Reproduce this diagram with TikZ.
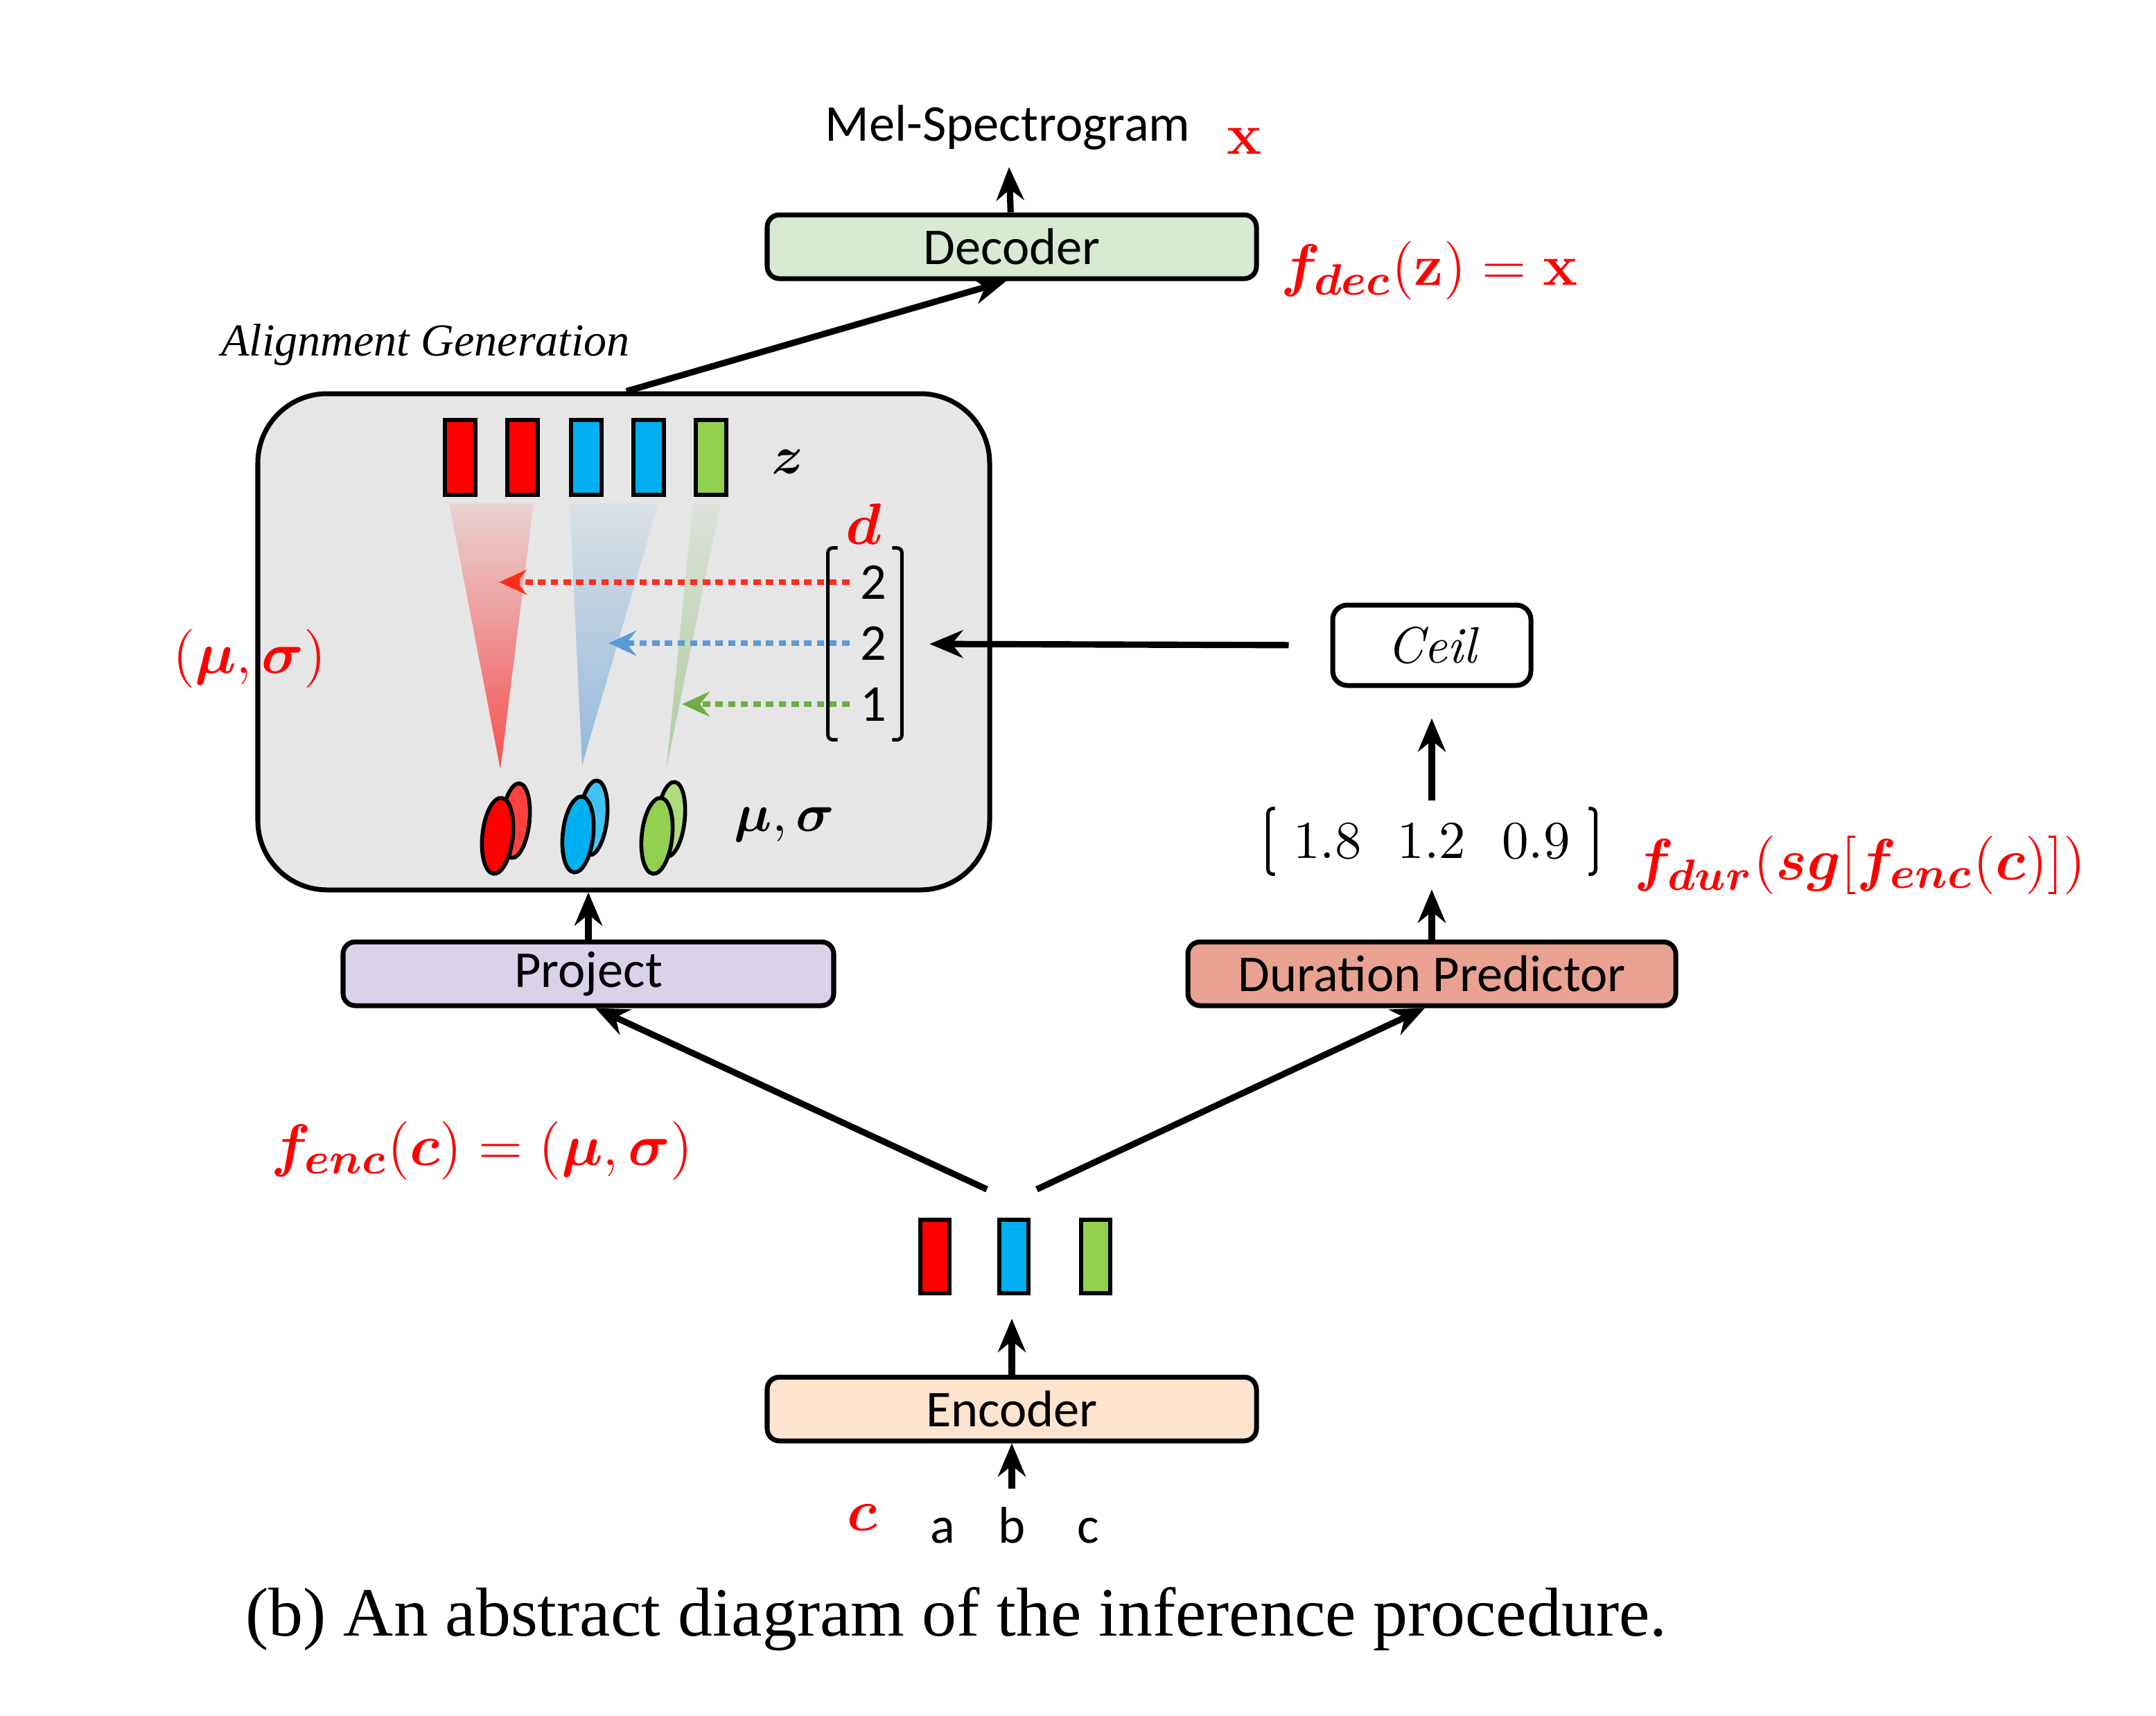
\documentclass[tikz,border=0pt]{standalone}
\usepackage[no-math]{fontspec}
\usepackage{amsmath}
\usepackage{bm}
\setmainfont{Carlito}
\newfontfamily\capfont{Liberation Serif}
\usetikzlibrary{positioning}
\usetikzlibrary{arrows.meta,calc}

\definecolor{decfill}{HTML}{D9EAD3}
\definecolor{projfill}{HTML}{D9D2E9}
\definecolor{durfill}{HTML}{E9A291}
\definecolor{encfill}{HTML}{FCE4CF}
\definecolor{agfill}{HTML}{E6E6E6}
\definecolor{zred}{HTML}{FF0000}
\definecolor{zblue}{HTML}{00B0F0}
\definecolor{zgreen}{HTML}{92D050}
\definecolor{dred}{HTML}{FF2D1F}
\definecolor{dblue}{HTML}{5B9BD5}
\definecolor{dgreen}{HTML}{70AD47}

\newcommand{\lblfont}{\fontsize{10.6}{12}\selectfont}

\begin{document}
\begin{tikzpicture}[
    box/.style={draw,line width=1pt,rounded corners=2.5pt,minimum width=3.53cm,minimum height=0.46cm,inner sep=0pt,font=\lblfont},
    bar/.style={draw,line width=0.8pt,minimum width=0.22cm,minimum height=0.54cm,inner sep=0pt},
    arr/.style={line width=1.3pt,-{Stealth[length=0.24cm,width=0.2cm,inset=0.08cm]}},
    dotarr/.style={line width=1.1pt,dash pattern=on 1.5pt off 1.1pt,-{Stealth[length=0.2cm,width=0.18cm,inset=0.07cm]}},
    redmath/.style={text=zred,font=\fontsize{12.5}{14}\selectfont,inner sep=1pt},
    blackmath/.style={font=\fontsize{11}{13}\selectfont,inner sep=1pt},
    digit/.style={font=\lblfont,inner sep=2pt},
    letter/.style={font=\lblfont,anchor=base,text height=1.6ex,text depth=0pt},
    brk/.style={line width=0.7pt,rounded corners=1pt},
    ellip/.style={line width=0.8pt},
]
    \useasboundingbox (0,0) rectangle (15.555,-12.375);

    % decoder
    \node[box,fill=decfill] (dec) at (7.30,-1.78) {Decoder};
    \node[font=\lblfont] (mel) at (7.27,-0.92) {Mel-Spectrogram};
        \draw[arr] (dec) -- (mel);
    \node[redmath] (xout) at (8.98,-1.02) {$\mathbf{x}$};
    \node[redmath,anchor=west,font=\fontsize{12.2}{14}\selectfont] (fdec) at (9.20,-1.95) {$\bm{f}_{\bm{dec}}(\mathbf{z})=\mathbf{x}$};

    % alignment generation
    \node[draw,fill=agfill,line width=1pt,rounded corners=0.5cm,minimum width=5.28cm,minimum height=3.58cm] (ag) at (4.50,-4.63) {};
    \node[font=\capfont\fontsize{9.4}{11}\selectfont\itshape] (aglbl) at (3.07,-2.49) {Alignment Generation};
        \draw[arr] ([xshift=0.02cm]ag.north) -- ([xshift=-0.04cm]dec.south);

    \shade[top color=red!8!agfill,bottom color=red!65!agfill] (3.24,-3.63) -- (3.85,-3.63) -- (3.61,-5.55) -- cycle;
    \shade[top color=dblue!8!agfill,bottom color=dblue!60!agfill] (4.11,-3.63) -- (4.75,-3.63) -- (4.20,-5.52) -- cycle;
    \shade[top color=dgreen!8!agfill,bottom color=dgreen!45!agfill] (5.00,-3.63) -- (5.20,-3.63) -- (4.81,-5.53) -- cycle;

    \node[bar,fill=zred] (z1) at (3.32,-3.30) {};
    \node[bar,fill=zred] (z2) at (3.77,-3.30) {};
    \node[bar,fill=zblue] (z3) at (4.23,-3.30) {};
    \node[bar,fill=zblue] (z4) at (4.68,-3.30) {};
    \node[bar,fill=zgreen] (z5) at (5.13,-3.30) {};
    \node[blackmath] (zlbl) at (5.68,-3.33) {$\bm{z}$};

    \node[redmath] (dlbl) at (6.23,-3.78) {$\bm{d}$};
    \node[minimum width=0.52cm,minimum height=1.37cm,inner sep=0pt] (dvec) at (6.24,-4.645) {};
        \draw[brk] ([xshift=0.07cm]dvec.north west) -- (dvec.north west) -- (dvec.south west) -- ++(0.07,0);
        \draw[brk] ([xshift=-0.07cm]dvec.north east) -- (dvec.north east) -- (dvec.south east) -- ++(-0.07,0);
    \node[digit] (d1) at (6.30,-4.20) {2};
    \node[digit] (d2) at (6.30,-4.64) {2};
    \node[digit] (d3) at (6.30,-5.08) {1};
    \coordinate (tipr) at (3.60,-4.20);
    \coordinate (tipb) at (4.39,-4.64);
    \coordinate (tipg) at (4.92,-5.08);
        \draw[dotarr,dred] (d1.west) -- (tipr);
        \draw[dotarr,dblue] (d2.west) -- (tipb);
        \draw[dotarr,dgreen] (d3.west) -- (tipg);

    \filldraw[ellip,fill=zred!75!white,rotate around={-6:(3.72,-5.92)}] (3.72,-5.92) ellipse (0.1 and 0.27);
    \filldraw[ellip,fill=zred,rotate around={-6:(3.59,-6.03)}] (3.59,-6.03) ellipse (0.11 and 0.275);
    \filldraw[ellip,fill=zblue!75!white,rotate around={-6:(4.28,-5.90)}] (4.28,-5.90) ellipse (0.1 and 0.27);
    \filldraw[ellip,fill=zblue,rotate around={-6:(4.17,-6.02)}] (4.17,-6.02) ellipse (0.11 and 0.275);
    \filldraw[ellip,fill=zgreen!75!white,rotate around={-6:(4.84,-5.91)}] (4.84,-5.91) ellipse (0.1 and 0.27);
    \filldraw[ellip,fill=zgreen,rotate around={-6:(4.74,-6.03)}] (4.74,-6.03) ellipse (0.11 and 0.275);
    \node[blackmath] (musig) at (5.66,-5.95) {$\bm{\mu},\bm{\sigma}$};
    \node[redmath] (musigr) at (1.80,-4.75) {$(\bm{\mu},\bm{\sigma})$};

    % duration branch
    \node[draw,fill=white,line width=1pt,rounded corners=3pt,minimum width=1.43cm,minimum height=0.58cm,font=\fontsize{10.5}{12}\selectfont\itshape] (ceil) at (10.33,-4.655) {\fontspec{Latin Modern Roman}Ceil};
        \draw[arr,shorten <=0.3cm,shorten >=0.2cm] (ceil.west) -- (dvec.east);
    \node[minimum width=2.35cm,minimum height=0.46cm,inner sep=0pt,font=\fontsize{10.8}{12}\selectfont] (durvec) at (10.33,-6.07) {$1.8$\hspace{0.26cm}$1.2$\hspace{0.26cm}$0.9$};
        \draw[brk] ([xshift=0.05cm]durvec.north west) -- (durvec.north west) -- (durvec.south west) -- ++(0.05,0);
        \draw[brk] ([xshift=-0.05cm]durvec.north east) -- (durvec.north east) -- (durvec.south east) -- ++(-0.05,0);
        \draw[arr,shorten <=0.06cm,shorten >=0.22cm] (durvec.north) -- (ceil.south);
    \node[redmath,anchor=west] (fdur) at (11.75,-6.24) {$\bm{f}_{\bm{dur}}(\bm{sg}[\bm{f}_{\bm{enc}}(\bm{c})])$};

    \node[box,fill=projfill,minimum width=3.54cm] (proj) at (4.245,-7.025) {Project};
        \draw[arr] (proj.north) -- (proj.north |- ag.south);
    \node[box,fill=durfill,minimum width=3.52cm] (dp) at (10.33,-7.025) {Duration Predictor};
        \draw[arr,shorten >=0.11cm] (dp.north) -- (durvec.south);

    % encoder
    \node[redmath] (fenc) at (3.48,-8.30) {$\bm{f}_{\bm{enc}}(\bm{c})=(\bm{\mu},\bm{\sigma})$};
    \coordinate (encl) at (7.12,-8.58);
    \coordinate (encr) at (7.48,-8.58);
        \draw[arr] (encl) -- ([xshift=0.05cm]proj.south);
        \draw[arr] (encr) -- ([xshift=-0.05cm]dp.south);
    \node[bar,fill=zred,minimum width=0.21cm,minimum height=0.53cm] (eb1) at (6.745,-9.065) {};
    \node[bar,fill=zblue,minimum width=0.21cm,minimum height=0.53cm] (eb2) at (7.315,-9.065) {};
    \node[bar,fill=zgreen,minimum width=0.21cm,minimum height=0.53cm] (eb3) at (7.905,-9.065) {};
    \node[box,fill=encfill] (enc) at (7.30,-10.165) {Encoder};
        \draw[arr,shorten >=0.17cm] (enc.north) -- (enc.north |- eb2.south);
    \node[letter] (ina) at (6.80,-11.13) {a};
    \node[letter] (inb) at (7.30,-11.13) {b};
    \node[letter] (inc) at (7.85,-11.13) {c};
        \draw[arr] (inb) -- (enc.south);
    \node[redmath] (cin) at (6.22,-10.95) {$\bm{c}$};

    \node[font=\capfont\fontsize{14.2}{17}\selectfont] (cap) at (6.90,-11.68) {(b) An abstract diagram of the inference procedure.};
\end{tikzpicture}
\end{document}
